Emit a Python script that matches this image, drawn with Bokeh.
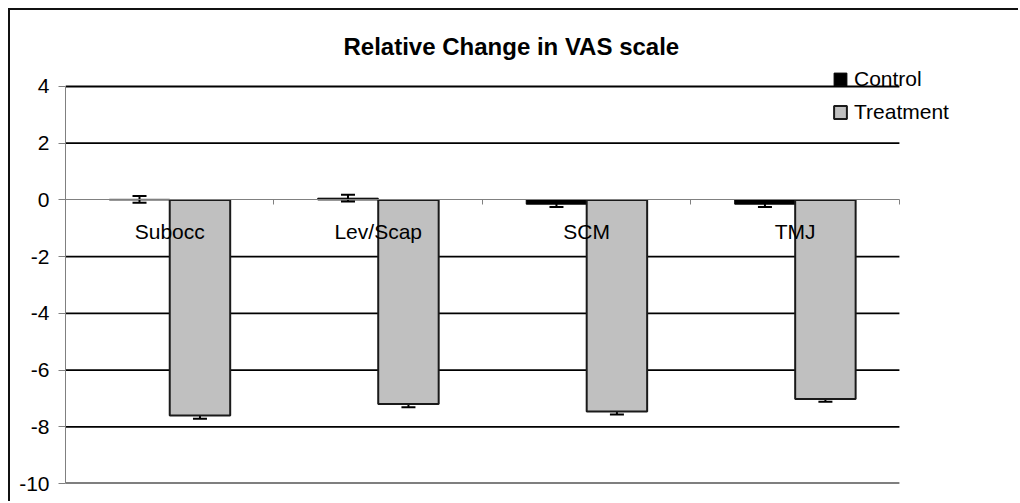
from bokeh.plotting import figure
from bokeh.models import (ColumnDataSource, FixedTicker, LinearAxis, Whisker, TeeHead,
                          Legend, LegendItem, Range1d)
from bokeh.core.properties import value
from bokeh.embed import file_html
from bokeh.resources import INLINE

# ---- data ----
categories = ["Subocc", "Lev/Scap", "SCM", "TMJ"]
control = [0.02, 0.06, -0.15, -0.15]
control_err = [0.12, 0.12, 0.10, 0.10]
treatment = [-7.60, -7.20, -7.46, -7.02]
treatment_err = [0.12, 0.11, 0.11, 0.10]
y_ticks = [-10, -8, -6, -4, -2, 0, 2, 4]

FONT = "Liberation Sans"
BW = 0.29
N = len(categories)
idx = [i + 0.5 for i in range(N)]
YMIN, YMAX = min(y_ticks), max(y_ticks)

src = ColumnDataSource(dict(
    cat=categories,
    xc=idx,
    xctrl=[c - BW / 2 for c in idx],
    xtrt=[c + BW / 2 for c in idx],
    ctrl=control,
    trt=treatment,
    ctrl_up=[v + e for v, e in zip(control, control_err)],
    ctrl_lo=[v - e for v, e in zip(control, control_err)],
    trt_up=[v + e for v, e in zip(treatment, treatment_err)],
    trt_lo=[v - e for v, e in zip(treatment, treatment_err)],
    zero=[0] * N,
))
grid_y = [t for t in y_ticks if t != 0]
gsrc = ColumnDataSource(dict(y=grid_y, x0=[0] * len(grid_y), x1=[N] * len(grid_y)))

# frame is widened / heightened beyond the data box so the legend can sit outside it
p = figure(width=1010, height=493, output_backend="svg", toolbar_location=None,
           x_range=Range1d(0, N * 1.1428), y_range=Range1d(YMIN, YMAX + 0.916),
           x_axis_location=None, y_axis_location=None,
           min_border_left=55, min_border_right=2, min_border_top=50, min_border_bottom=20)
p.margin = (8, 0, 0, 8)
p.styles = {"border-left": "2px solid #111", "border-top": "2px solid #111"}
p.outline_line_color = None
p.background_fill_color = "white"
p.xgrid.visible = False
p.ygrid.visible = False

# title
p.title.text = "Relative Change in VAS scale"
p.title.text_font = FONT
p.title.text_font_size = "24px"
p.title.text_font_style = "bold"
p.title.text_color = "black"
p.title.align = "left"
p.title.offset = 278
p.title.standoff = 2

# y axis
yax = LinearAxis(ticker=FixedTicker(ticks=y_ticks), bounds=(YMIN, YMAX))
yax.axis_line_color = "#808080"
yax.major_tick_line_color = "#808080"
yax.major_tick_out = 7
yax.major_tick_in = 0
yax.minor_tick_line_color = None
yax.major_label_standoff = 9
yax.major_label_text_font = FONT
yax.major_label_text_font_size = "21px"
yax.major_label_text_color = "black"
yax.major_label_overrides = {t: str(t) for t in y_ticks}
p.add_layout(yax, "left")

# x axis at zero: category boundary ticks only (labels not drawn)
xax = LinearAxis(ticker=FixedTicker(ticks=list(range(N + 1))), fixed_location=0, bounds=(0, N))
xax.axis_line_color = "#808080"
xax.major_tick_line_color = "#808080"
xax.major_tick_out = 5
xax.major_tick_in = 0
xax.minor_tick_line_color = None
xax.major_label_text_color = None
xax.major_label_standoff = 0
p.add_layout(xax, "below")

# horizontal gridlines over the data box
p.segment(x0="x0", x1="x1", y0="y", y1="y", source=gsrc, line_color="black", line_width=1.8)

# bars
rc = p.vbar(x="xctrl", top="ctrl", bottom=0, width=BW, source=src,
            fill_color="black", line_color="black", line_width=1)
rt = p.vbar(x="xtrt", top="trt", bottom=0, width=BW, source=src,
            fill_color="#C0C0C0", line_color="#1a1a1a", line_width=2)

# error bars
for base, up, lo in [("xctrl", "ctrl_up", "ctrl_lo"), ("xtrt", "trt_up", "trt_lo")]:
    w = Whisker(source=src, base=base, upper=up, lower=lo, line_color="black", line_width=2,
                upper_head=TeeHead(size=14, line_color="black", line_width=2),
                lower_head=TeeHead(size=14, line_color="black", line_width=2))
    p.add_layout(w)

# category labels below the zero line
p.text(x="xc", y="zero", text="cat", source=src, text_align="center", text_baseline="top",
       y_offset=20, text_font=value(FONT), text_font_size="21px", text_color="black")

# legend
legend = Legend(items=[LegendItem(label="Control", renderers=[rc]),
                       LegendItem(label="Treatment", renderers=[rt])],
                location=(767, 359), orientation="vertical")
legend.label_text_font = FONT
legend.label_text_font_size = "21px"
legend.label_text_color = "black"
legend.glyph_width = 16
legend.glyph_height = 16
legend.label_height = 24
legend.label_standoff = 6
legend.spacing = 9
legend.padding = 0
legend.margin = 0
legend.border_line_color = None
legend.background_fill_alpha = 0
p.add_layout(legend)

open("out.html", "w").write(file_html(p, INLINE))
